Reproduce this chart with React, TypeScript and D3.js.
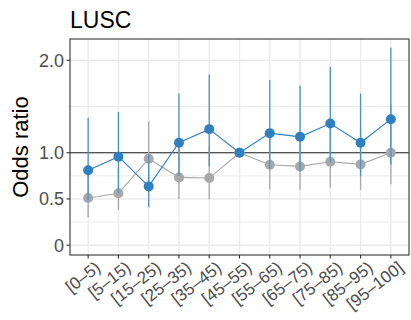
import React from "react";
import * as d3 from "d3";

const categories = ["[0–5)", "[5–15)", "[15–25)", "[25–35)", "[35–45)", "[45–55)", "[55–65)", "[65–75)", "[75–85)", "[85–95)", "[95–100]"];
const blueOR = [0.81, 0.957, 0.636, 1.108, 1.255, 1.0, 1.212, 1.172, 1.316, 1.108, 1.363];
const blueLo = [0.48, 0.56, 0.41, 0.748, 0.854, 1.0, 0.821, 0.796, 0.897, 0.748, 0.87];
const blueHi = [1.377, 1.44, 0.98, 1.64, 1.845, 1.0, 1.787, 1.726, 1.93, 1.64, 2.136];
const grayOR = [0.51, 0.561, 0.935, 0.733, 0.726, 1.0, 0.87, 0.852, 0.903, 0.874, 1.0];
const grayLo = [0.3, 0.378, 0.652, 0.5, 0.496, 1.0, 0.604, 0.6, 0.622, 0.6, 0.658];
const grayHi = [0.867, 0.833, 1.34, 1.07, 1.06, 1.0, 1.25, 1.21, 1.3, 1.27, 1.52];
const yTicks = [0, 0.5, 1.0, 2.0];
const yTickLabels = ["0", "0.5", "1.0", "2.0"];
const yMinor = [0.25, 0.75, 1.5];

const W = 411, H = 320;
const L = 70, R = 409, T = 39, B = 255;
const BLUE = "#2F80C1";
const BLUE_BAR = "#4A92CB";
const GRAY = "#A8A8A8";
const FONT = "Liberation Sans, Arial, sans-serif";

export default function App() {
  const x = d3.scalePoint<string>().domain(categories).range([L, R]).padding(0.6);
  const y = d3.scaleLinear().domain([-0.106, 2.23]).range([B, T]);
  const line = d3.line<number>().x((_, i) => x(categories[i])!).y((d) => y(d));

  const series = [
    { or: grayOR, lo: grayLo, hi: grayHi, c: GRAY, bc: GRAY },
    { or: blueOR, lo: blueLo, hi: blueHi, c: BLUE, bc: BLUE_BAR },
  ];

  return (
    <div style={{ position: "absolute", left: 0, top: 0 }}>
      <svg width={W} height={H} style={{ display: "block", background: "#fff" }} fontFamily={FONT}>
        <rect x={0} y={0} width={W} height={H} fill="#fff" />
        {yMinor.map((v) => (
          <line key={"mn" + v} x1={L} x2={R} y1={y(v)} y2={y(v)} stroke="#EBEBEB" strokeWidth={1} />
        ))}
        {yTicks.map((v) => (
          <line key={"mj" + v} x1={L} x2={R} y1={y(v)} y2={y(v)} stroke="#EBEBEB" strokeWidth={1.4} />
        ))}
        {categories.map((c) => (
          <line key={"vx" + c} x1={x(c)} x2={x(c)} y1={T} y2={B} stroke="#EBEBEB" strokeWidth={1.4} />
        ))}
        <line x1={L} x2={R} y1={y(1)} y2={y(1)} stroke="#222" strokeWidth={1.1} />
        {series.map((s, si) => (
          <g key={si}>
            {categories.map((c, i) => (
              <line key={c} x1={x(c)} x2={x(c)} y1={y(s.lo[i])} y2={y(s.hi[i])} stroke={s.bc} strokeWidth={1.3} />
            ))}
            <path d={line(s.or)!} fill="none" stroke={s.c} strokeWidth={1.1} />
            {categories.map((c, i) => (
              <circle key={"p" + c} cx={x(c)} cy={y(s.or[i])} r={5} fill={s.c} />
            ))}
          </g>
        ))}
        <rect x={L} y={T} width={R - L} height={B - T} fill="none" stroke="#333" strokeWidth={1.1} />
        {yTicks.map((v, i) => (
          <g key={"yt" + v}>
            <line x1={L - 3.5} x2={L} y1={y(v)} y2={y(v)} stroke="#333" strokeWidth={1.1} />
            <text x={L - 6} y={y(v)} dy="0.36em" textAnchor="end" fontSize={18} fill="#4D4D4D">
              {yTickLabels[i]}
            </text>
          </g>
        ))}
        {categories.map((c) => (
          <g key={"xt" + c}>
            <line x1={x(c)} x2={x(c)} y1={B} y2={B + 3.5} stroke="#333" strokeWidth={1.1} />
            <text
              transform={`translate(${x(c)! + 6},${B + 5}) rotate(-38)`}
              textAnchor="end"
              dy="0.72em"
              fontSize={17}
              fill="#4D4D4D"
            >
              {c}
            </text>
          </g>
        ))}
        <text transform={`translate(28,${(T + B) / 2}) rotate(-90)`} textAnchor="middle" fontSize={22} fill="#000">
          Odds ratio
        </text>
        <text x={L} y={28} fontSize={23} fill="#000">
          LUSC
        </text>
      </svg>
    </div>
  );
}
